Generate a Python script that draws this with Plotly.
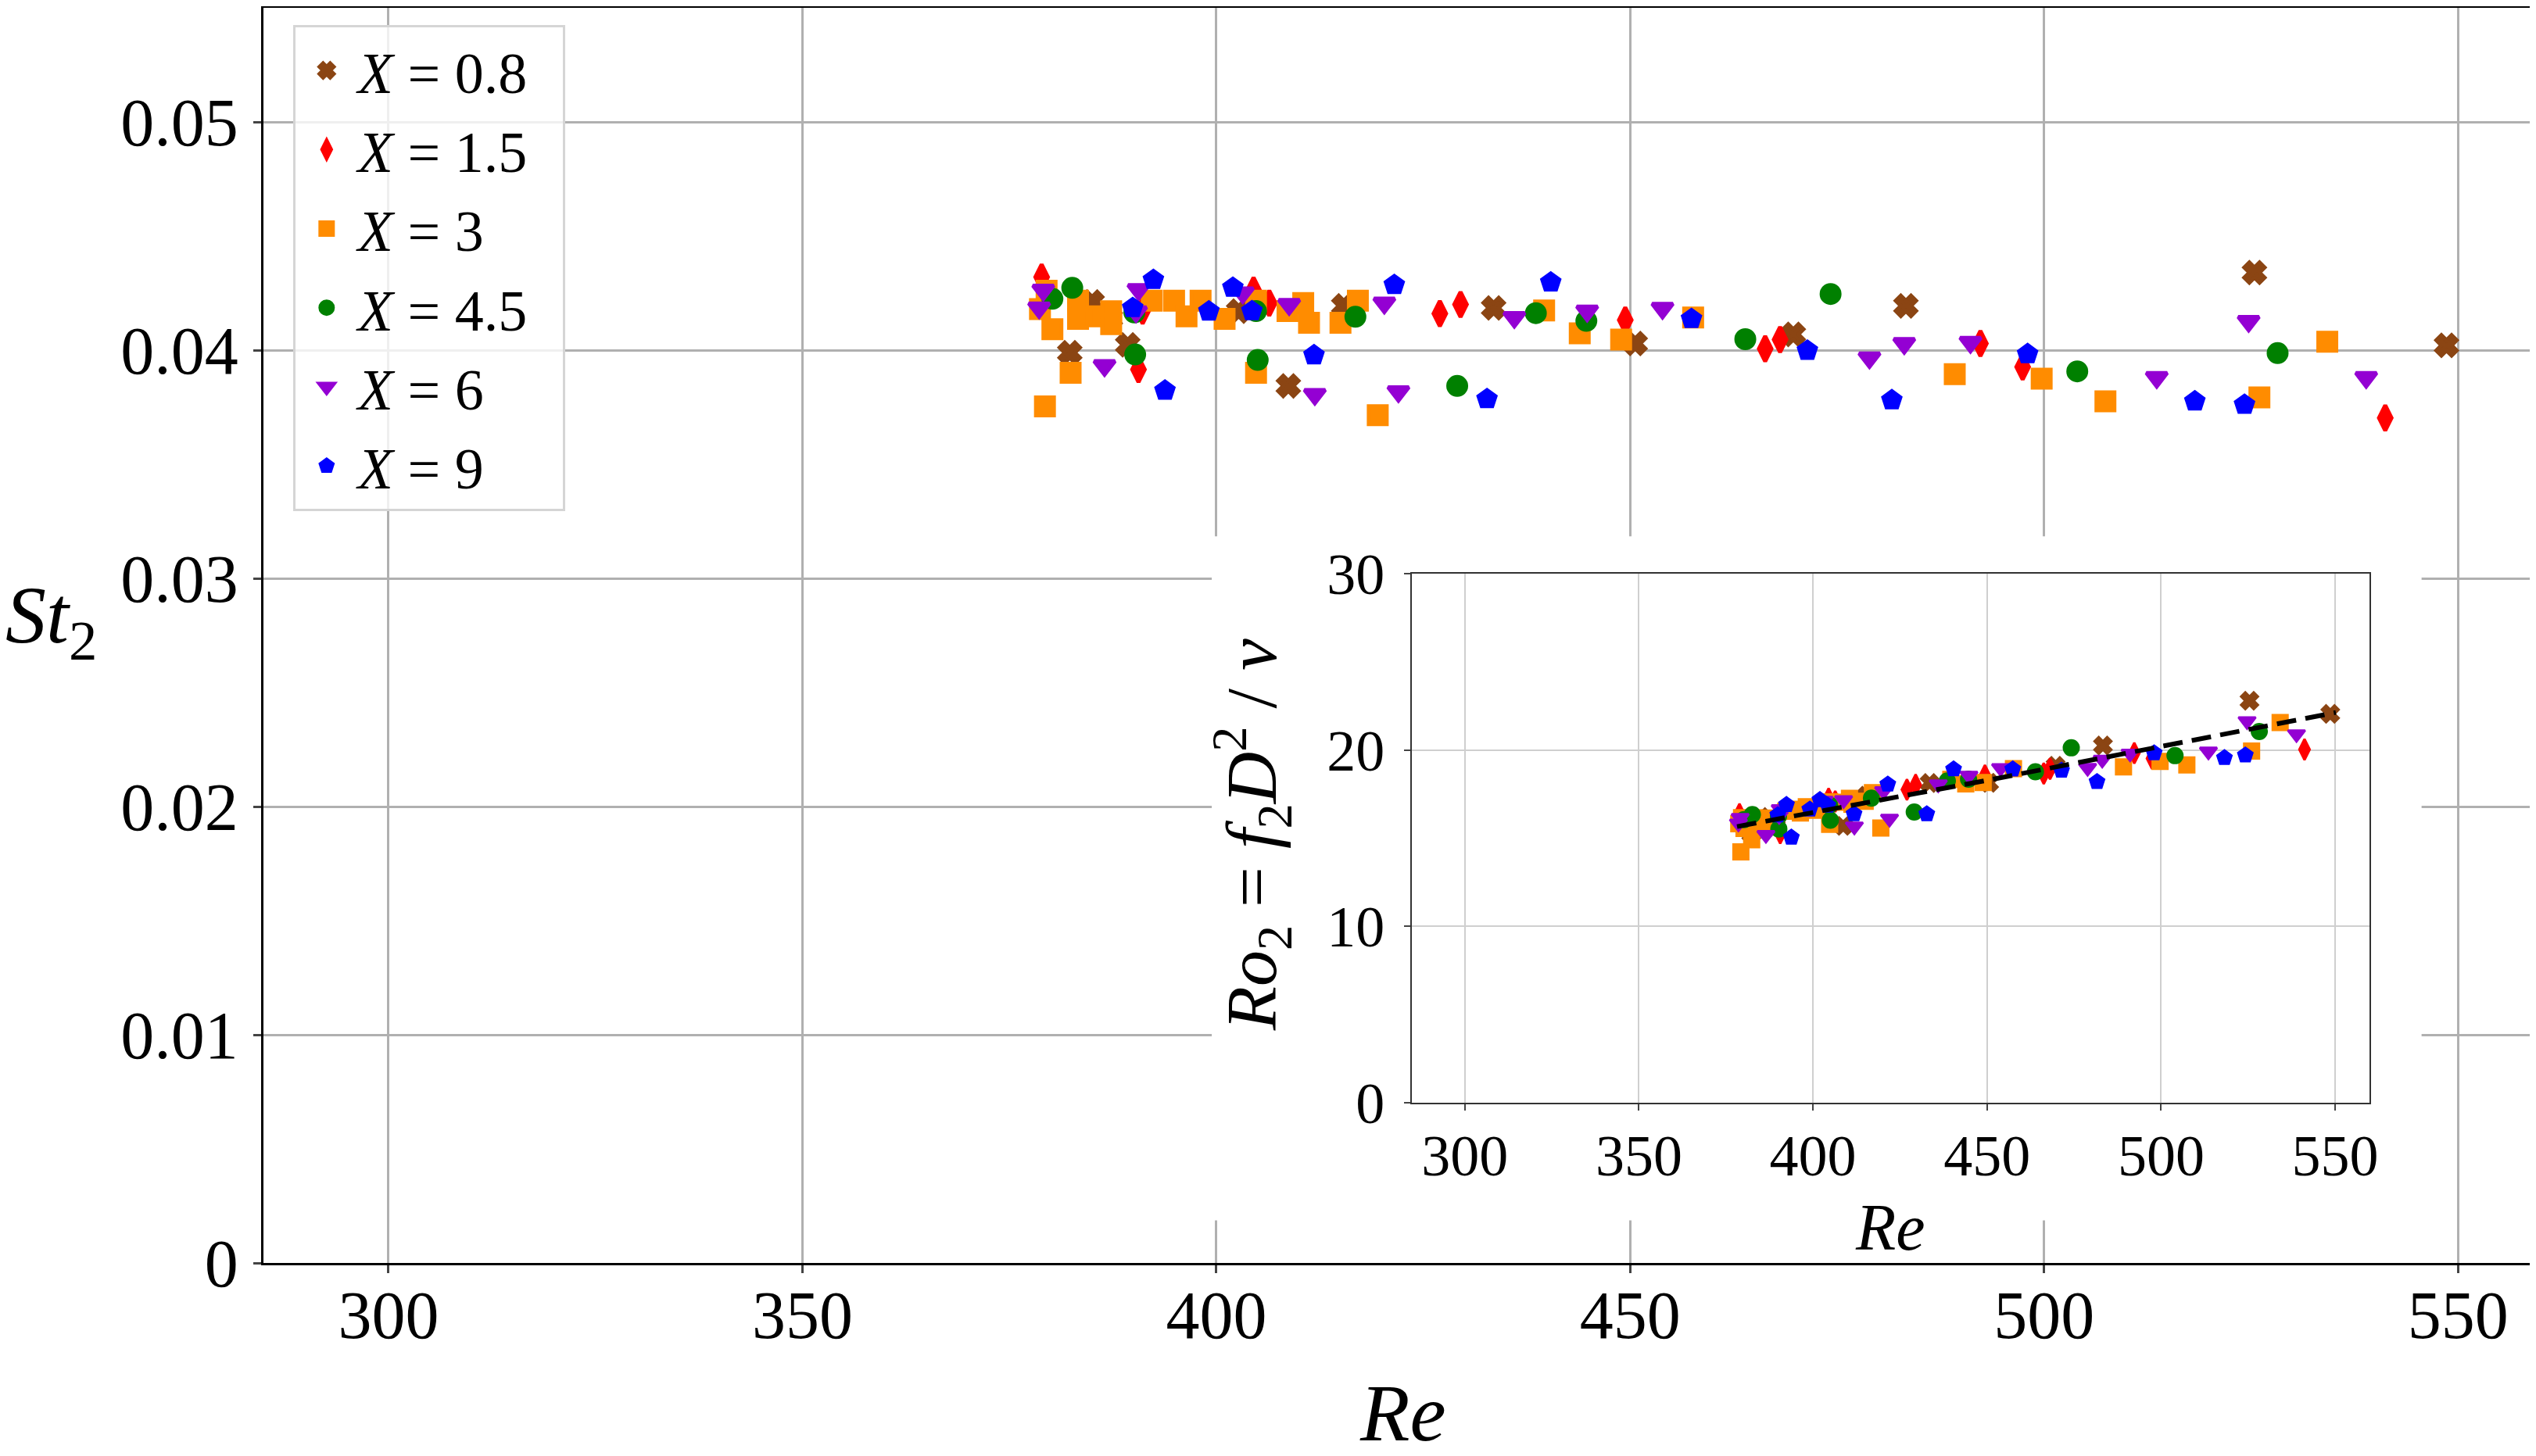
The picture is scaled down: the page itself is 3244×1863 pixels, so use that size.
import plotly.graph_objects as go

# St_2 vs Re for each spacing ratio X
re_08 = [382.3, 385.0, 387.2, 389.3, 402.7, 408.7, 415.4, 433.5, 450.6, 469.7, 483.3, 525.4, 548.6]
st_08 = [0.03989, 0.04211, 0.04140, 0.04023, 0.04171, 0.03843, 0.04194, 0.04185, 0.04029, 0.04069,
         0.04194, 0.04340, 0.04021]

re_15 = [378.9, 390.6, 391.1, 404.5, 406.4, 427.0, 429.5, 449.4, 466.3, 468.1, 492.3, 497.4, 541.2]
st_15 = [0.04320, 0.03915, 0.04171, 0.04263, 0.04206, 0.04160, 0.04200, 0.04132, 0.04006, 0.04046,
         0.04029, 0.03926, 0.03703]

re_3 = [379.5, 378.7, 380.2, 382.4, 379.3, 383.3, 383.3, 385.9, 387.3, 387.3, 392.2, 394.9, 396.4,
        398.1, 401.0, 404.8, 404.8, 408.6, 410.5, 411.2, 415.0, 417.1, 419.5, 439.6, 443.9, 448.9,
        457.6, 489.2, 499.7, 507.4, 526.0, 534.2]
st_3 = [0.04260, 0.04180, 0.04092, 0.03901, 0.03753, 0.04217, 0.04137, 0.04148, 0.04170, 0.04114,
        0.04217, 0.04217, 0.04148, 0.04217, 0.04137, 0.04217, 0.03901, 0.04171, 0.04206, 0.04120,
        0.04120, 0.04217, 0.03715, 0.04174, 0.04074, 0.04046, 0.04143, 0.03895, 0.03875, 0.03776,
        0.03793, 0.04037]

re_45 = [380.2, 382.6, 390.1, 390.2, 404.8, 405.0, 416.8, 429.1, 438.6, 444.7, 463.9, 474.2, 504.0, 528.2]
st_45 = [0.04225, 0.04273, 0.04165, 0.03981, 0.04171, 0.03957, 0.04146, 0.03843, 0.04162, 0.04128,
         0.04048, 0.04246, 0.03907, 0.03987]

re_6 = [379.1, 378.6, 386.5, 390.6, 390.3, 403.2, 408.8, 411.9, 420.3, 422.0, 436.0, 444.8, 453.9,
        478.9, 483.1, 491.1, 513.6, 524.7, 538.9]
st_6 = [0.04263, 0.04185, 0.03932, 0.04265, 0.04168, 0.04251, 0.04200, 0.03806, 0.04206, 0.03818,
        0.04143, 0.04171, 0.04183, 0.03966, 0.04029, 0.04034, 0.03880, 0.04126, 0.03880]

re_9 = [389.9, 392.4, 393.8, 399.1, 402.0, 404.3, 411.8, 421.5, 432.7, 440.4, 457.4, 471.4, 481.6,
        498.0, 518.2, 524.2]
st_9 = [0.04185, 0.04308, 0.03823, 0.04170, 0.04274, 0.04171, 0.03978, 0.04286, 0.03786, 0.04297,
        0.04137, 0.03998, 0.03781, 0.03983, 0.03776, 0.03761]

# dashed fit line in the inset
fit_re = [378.2, 450.0, 550.2]
fit_ro = [15.67, 18.29, 22.14]

x_ticks = [300, 350, 400, 450, 500, 550]
y_ticks = [0, 0.01, 0.02, 0.03, 0.04, 0.05]
y_ticklabels = ['0', '0.01', '0.02', '0.03', '0.04', '0.05']
inset_y_ticks = [0, 10, 20, 30]

series = [
    ('<i>X</i> = 0.8', re_08, st_08, 'x', '#8B4513'),
    ('<i>X</i> = 1.5', re_15, st_15, 'diamond-tall', '#FF0000'),
    ('<i>X</i> = 3', re_3, st_3, 'square', '#FF8C00'),
    ('<i>X</i> = 4.5', re_45, st_45, 'circle', '#008000'),
    ('<i>X</i> = 6', re_6, st_6, 'triangle-down', '#9400D3'),
    ('<i>X</i> = 9', re_9, st_9, 'pentagon', '#0000FF'),
]

FONT = 'Liberation Serif'
X_RANGE = [284.9, 559.6]
Y_RANGE = [0, 0.055]


def frac(rng, f):
    # position inside an axis range, given as a fraction of it
    return rng[0] + f * (rng[1] - rng[0])


def make_chart():
    fig = go.Figure()

    # main panel
    for i, (name, re, st, sym, col) in enumerate(series):
        fig.add_trace(go.Scatter(
            x=re, y=st, mode='markers', name=name + '\u2002', legendgroup=str(i),
            marker=dict(symbol=sym, size=23, color=col, line=dict(color=col, width=5)),
            xaxis='x', yaxis='y'))

    # inset: Ro_2 = St_2 * Re
    for name, re, st, sym, col in series:
        ro = [s * r for s, r in zip(st, re)]
        fig.add_trace(go.Scatter(
            x=re, y=ro, mode='markers', showlegend=False,
            marker=dict(symbol=sym, size=19, color=col, line=dict(color=col, width=3)),
            xaxis='x2', yaxis='y2'))
    fig.add_trace(go.Scatter(
        x=fit_re, y=fit_ro, mode='lines', showlegend=False,
        line=dict(color='black', width=6, dash='25px,12px'),
        xaxis='x2', yaxis='y2'))

    ann = dict(xref='paper', yref='paper', showarrow=False, xanchor='center', yanchor='middle')

    fig.update_layout(
        width=3244, height=1863,
        margin=dict(l=329, r=6, t=2, b=255, autoexpand=False),
        paper_bgcolor='white', plot_bgcolor='white',
        font=dict(family=FONT, size=86, color='black'),
        xaxis=dict(range=X_RANGE, tickvals=x_ticks, showgrid=True, automargin=False,
                   gridcolor='#b0b0b0', gridwidth=2.5, showline=True, linecolor='black',
                   linewidth=3, mirror=True, ticks='outside', ticklen=10, tickwidth=3,
                   ticklabelstandoff=-20, zeroline=False, domain=[0, 1]),
        yaxis=dict(range=Y_RANGE, tickvals=y_ticks, ticktext=y_ticklabels, showgrid=True,
                   gridcolor='#b0b0b0', gridwidth=2.5, showline=True, linecolor='black',
                   linewidth=3, mirror=True, ticks='outside', ticklen=10, tickwidth=3,
                   ticklabelstandoff=2, zeroline=False, domain=[0, 1], automargin=False),
        xaxis2=dict(range=[284.8, 559.8], tickvals=x_ticks, anchor='y2', domain=[0.505, 0.926],
                    showgrid=True, gridcolor='#cfcfcf', gridwidth=1.5, showline=True,
                    linecolor='#333333', linewidth=2, mirror=True, ticks='outside', ticklen=8,
                    tickwidth=2, tickfont=dict(size=74), ticklabelstandoff=-6, zeroline=False,
                    automargin=False),
        yaxis2=dict(range=[0, 30], tickvals=inset_y_ticks, anchor='x2', domain=[0.1276, 0.549],
                    showgrid=True, gridcolor='#cfcfcf', gridwidth=1.5, showline=True,
                    linecolor='#333333', linewidth=2, mirror=True, ticks='outside', ticklen=8,
                    tickwidth=2, tickfont=dict(size=74), ticklabelstandoff=10, zeroline=False,
                    automargin=False),
        legend=dict(x=0.013, y=0.986, xanchor='left', yanchor='top',
                    bgcolor='rgba(255,255,255,0.8)', bordercolor='#d5d5d5', borderwidth=3,
                    font=dict(size=74), traceorder='grouped', tracegroupgap=2, itemwidth=70),
        # white patch behind the inset, hiding the main grid
        shapes=[dict(type='rect', xref='x', yref='y',
                     x0=frac(X_RANGE, 0.417), x1=frac(X_RANGE, 0.949),
                     y0=frac(Y_RANGE, 0.034), y1=frac(Y_RANGE, 0.579),
                     fillcolor='white', line=dict(width=0), layer='between')],
        annotations=[
            dict(text='<i>Re</i>', x=0.5009, y=-0.1195, font=dict(size=104), **ann),
            dict(text='<i>St</i><sub>2</sub>', x=-0.0932, y=0.5115, font=dict(size=104), **ann),
            dict(text='<i>Re</i>', x=0.7154, y=0.0286, font=dict(size=84), **ann),
            dict(text='<i>Ro</i><sub>2</sub> = <i>f</i><sub>2</sub><i>D</i><sup>2</sup> / <i>ν</i>',
                 x=0.4345, y=0.341, textangle=-90, font=dict(size=92), **ann),
        ],
    )

    fig.write_html('out.html')


if __name__ == '__main__':
    make_chart()
